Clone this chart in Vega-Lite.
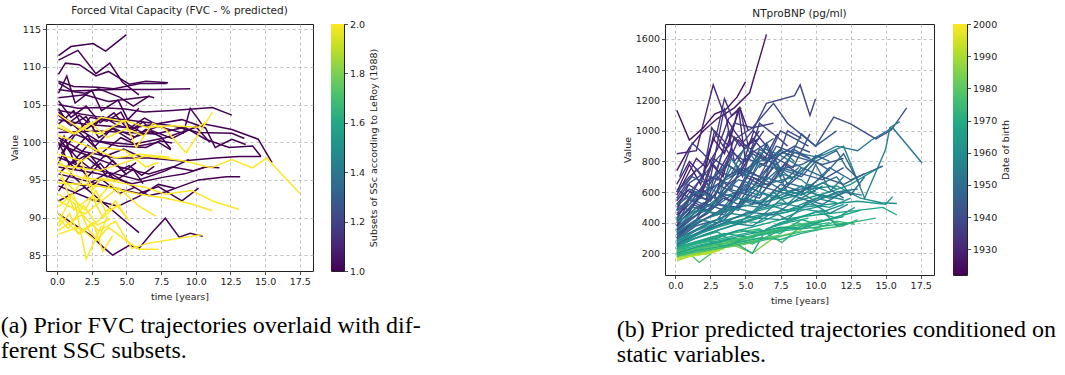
{
"$schema": "https://vega.github.io/schema/vega-lite/v6.json",
"background": "white",
"padding": {"left": 0, "top": 5, "right": 0, "bottom": 0},
"config": {
  "view": {"stroke": "#222", "strokeWidth": 1},
  "axis": {"grid": true, "gridDash": [3, 3], "gridColor": "#b0b0b0", "gridWidth": 0.8, "domain": false, "tickColor": "#222", "tickSize": 3.5, "tickWidth": 0.8, "labelFont": "DejaVu Sans", "labelFontSize": 9.5, "labelColor": "#222", "labelPadding": 2, "titleFont": "DejaVu Sans", "titleFontSize": 9.5, "titleFontWeight": "normal", "titleColor": "#222", "titlePadding": 5},
  "title": {"font": "DejaVu Sans", "fontSize": 10.5, "fontWeight": "normal", "color": "#222"}
},
"resolve": {"scale": {"color": "independent"}},
"datasets": {
"cb1": [{"lo": 1, "hi": 2}],
"cb2": [{"lo": 1922, "hi": 2000}],
"fvc": [
{"i":1,"g":1,"t":0.1,"v":111.5},{"i":1,"g":1,"t":1.0,"v":112.7},{"i":1,"g":1,"t":2.6,"v":113.1},{"i":1,"g":1,"t":3.5,"v":112.1},{"i":1,"g":1,"t":5.0,"v":114.3},
{"i":2,"g":1,"t":0.1,"v":110.9},{"i":2,"g":1,"t":1.5,"v":112.2},{"i":2,"g":1,"t":2.8,"v":109.1},{"i":2,"g":1,"t":3.8,"v":110.5},{"i":2,"g":1,"t":4.7,"v":108.0},{"i":2,"g":1,"t":5.9,"v":106.3},
{"i":3,"g":1,"t":0.1,"v":109.0},{"i":3,"g":1,"t":0.6,"v":110.5},{"i":3,"g":1,"t":1.6,"v":110.3},{"i":3,"g":1,"t":2.8,"v":108.8},{"i":3,"g":1,"t":3.7,"v":109.4},{"i":3,"g":1,"t":5.2,"v":107.7},{"i":3,"g":1,"t":6.4,"v":108.1},{"i":3,"g":1,"t":8.0,"v":107.9},
{"i":4,"g":1,"t":0.1,"v":108.1},{"i":4,"g":1,"t":1.2,"v":107.4},{"i":4,"g":1,"t":2.9,"v":107.3},{"i":4,"g":1,"t":4.1,"v":107.1},{"i":4,"g":1,"t":6.0,"v":107.8},{"i":4,"g":1,"t":7.9,"v":107.8},
{"i":5,"g":1,"t":0.1,"v":107.9},{"i":5,"g":1,"t":1.1,"v":106.8},{"i":5,"g":1,"t":4.2,"v":107.0},{"i":5,"g":1,"t":7.1,"v":107.0},{"i":5,"g":1,"t":9.6,"v":107.1},
{"i":6,"g":1,"t":0.1,"v":107.0},{"i":6,"g":1,"t":2.0,"v":106.5},{"i":6,"g":1,"t":3.0,"v":107.1},{"i":6,"g":1,"t":4.5,"v":106.0},{"i":6,"g":1,"t":5.5,"v":104.8},{"i":6,"g":1,"t":6.6,"v":106.1},{"i":6,"g":1,"t":7.0,"v":105.9},
{"i":7,"g":1,"t":0.1,"v":105.9},{"i":7,"g":1,"t":2.0,"v":106.3},{"i":7,"g":1,"t":3.7,"v":105.4},{"i":7,"g":1,"t":5.9,"v":105.9},{"i":7,"g":1,"t":6.7,"v":106.1},
{"i":8,"g":1,"t":0.1,"v":105.0},{"i":8,"g":1,"t":1.5,"v":104.5},{"i":8,"g":1,"t":3.0,"v":104.6},{"i":8,"g":1,"t":4.9,"v":104.4},{"i":8,"g":1,"t":6.3,"v":104.0},{"i":8,"g":1,"t":8.3,"v":104.2},{"i":8,"g":1,"t":11.2,"v":104.6},{"i":8,"g":1,"t":12.6,"v":103.6},
{"i":9,"g":1,"t":0.1,"v":104.2},{"i":9,"g":1,"t":2.9,"v":103.4},{"i":9,"g":1,"t":5.4,"v":102.9},{"i":9,"g":1,"t":8.3,"v":102.2},{"i":9,"g":1,"t":10.2,"v":101.3},{"i":9,"g":1,"t":12.6,"v":101.2},{"i":9,"g":1,"t":13.5,"v":100.5},
{"i":10,"g":1,"t":0.1,"v":103.0},{"i":10,"g":1,"t":2.0,"v":102.4},{"i":10,"g":1,"t":5.4,"v":101.9},{"i":10,"g":1,"t":9.0,"v":103.0},{"i":10,"g":1,"t":10.7,"v":101.9},{"i":10,"g":1,"t":11.4,"v":99.3},{"i":10,"g":1,"t":12.6,"v":100.4},{"i":10,"g":1,"t":13.6,"v":99.7},
{"i":11,"g":1,"t":0.1,"v":101.3},{"i":11,"g":1,"t":3.0,"v":101.5},{"i":11,"g":1,"t":7.1,"v":101.1},{"i":11,"g":1,"t":9.2,"v":102.0},{"i":11,"g":1,"t":10.7,"v":100.4},{"i":11,"g":1,"t":12.4,"v":99.3},{"i":11,"g":1,"t":14.1,"v":99.5},{"i":11,"g":1,"t":14.7,"v":98.1},
{"i":12,"g":1,"t":0.1,"v":101.9},{"i":12,"g":1,"t":2.5,"v":100.2},{"i":12,"g":1,"t":5.4,"v":99.7},{"i":12,"g":1,"t":7.8,"v":100.6},{"i":12,"g":1,"t":10.7,"v":102.4},{"i":12,"g":1,"t":12.6,"v":101.7},{"i":12,"g":1,"t":14.5,"v":100.4},{"i":12,"g":1,"t":15.5,"v":97.3},
{"i":13,"g":1,"t":0.1,"v":100.6},{"i":13,"g":1,"t":1.8,"v":98.8},{"i":13,"g":1,"t":4.2,"v":97.9},{"i":13,"g":1,"t":6.6,"v":97.9},{"i":13,"g":1,"t":9.0,"v":97.5},{"i":13,"g":1,"t":11.4,"v":97.9},{"i":13,"g":1,"t":13.1,"v":98.1},{"i":13,"g":1,"t":14.7,"v":98.1},
{"i":14,"g":1,"t":0.1,"v":99.7},{"i":14,"g":1,"t":2.0,"v":98.4},{"i":14,"g":1,"t":4.5,"v":96.7},{"i":14,"g":1,"t":6.6,"v":95.8},{"i":14,"g":1,"t":8.3,"v":96.7},{"i":14,"g":1,"t":9.8,"v":96.2},{"i":14,"g":1,"t":10.7,"v":96.7},
{"i":15,"g":1,"t":0.1,"v":98.0},{"i":15,"g":1,"t":1.8,"v":96.7},{"i":15,"g":1,"t":4.2,"v":95.8},{"i":15,"g":1,"t":5.9,"v":95.0},{"i":15,"g":1,"t":7.8,"v":96.2},{"i":15,"g":1,"t":9.5,"v":97.7},
{"i":16,"g":1,"t":0.1,"v":96.7},{"i":16,"g":1,"t":3.0,"v":95.8},{"i":16,"g":1,"t":5.4,"v":94.5},{"i":16,"g":1,"t":7.8,"v":95.4},{"i":16,"g":1,"t":9.2,"v":95.8},{"i":16,"g":1,"t":10.7,"v":96.7},{"i":16,"g":1,"t":11.7,"v":96.6},
{"i":17,"g":1,"t":0.1,"v":95.8},{"i":17,"g":1,"t":1.8,"v":95.0},{"i":17,"g":1,"t":3.7,"v":94.1},{"i":17,"g":1,"t":5.9,"v":93.2},{"i":17,"g":1,"t":7.3,"v":94.1},{"i":17,"g":1,"t":9.0,"v":92.2},{"i":17,"g":1,"t":10.2,"v":93.9},
{"i":18,"g":1,"t":0.1,"v":92.2},{"i":18,"g":1,"t":2.0,"v":94.0},{"i":18,"g":1,"t":3.7,"v":91.4},{"i":18,"g":1,"t":5.9,"v":88.0},
{"i":19,"g":1,"t":0.1,"v":90.5},{"i":19,"g":1,"t":1.3,"v":89.0},{"i":19,"g":1,"t":2.4,"v":87.7},{"i":19,"g":1,"t":3.3,"v":86.1},{"i":19,"g":1,"t":4.0,"v":85.0},{"i":19,"g":1,"t":5.2,"v":86.3},{"i":19,"g":1,"t":5.9,"v":85.9},{"i":19,"g":1,"t":6.9,"v":88.1},{"i":19,"g":1,"t":7.8,"v":89.9},{"i":19,"g":1,"t":8.8,"v":87.4},{"i":19,"g":1,"t":9.6,"v":87.9},{"i":19,"g":1,"t":10.5,"v":87.5},
{"i":20,"g":1,"t":0.1,"v":95.0},{"i":20,"g":1,"t":2.0,"v":94.2},{"i":20,"g":1,"t":3.7,"v":96.0},{"i":20,"g":1,"t":5.4,"v":94.2},{"i":20,"g":1,"t":6.6,"v":92.9},{"i":20,"g":1,"t":7.8,"v":93.4},{"i":20,"g":1,"t":9.0,"v":94.2},{"i":20,"g":1,"t":10.2,"v":95.0},{"i":20,"g":1,"t":12.2,"v":95.4},{"i":20,"g":1,"t":13.2,"v":95.4},
{"i":21,"g":1,"t":0.1,"v":94.2},{"i":21,"g":1,"t":2.5,"v":92.4},{"i":21,"g":1,"t":4.4,"v":91.5},{"i":21,"g":1,"t":5.9,"v":92.8},{"i":21,"g":1,"t":7.3,"v":94.4},{"i":21,"g":1,"t":8.5,"v":93.9},
{"i":22,"g":1,"t":0.1,"v":104.5},{"i":22,"g":1,"t":0.8,"v":102.5},{"i":22,"g":1,"t":1.6,"v":103.6},{"i":22,"g":1,"t":2.6,"v":102.0},{"i":22,"g":1,"t":3.3,"v":103.4},{"i":22,"g":1,"t":4.3,"v":102.3},{"i":22,"g":1,"t":5.7,"v":101.5},{"i":22,"g":1,"t":6.0,"v":102.5},
{"i":23,"g":1,"t":0.1,"v":99.0},{"i":23,"g":1,"t":0.5,"v":100.8},{"i":23,"g":1,"t":1.2,"v":97.5},{"i":23,"g":1,"t":2.2,"v":99.6},{"i":23,"g":1,"t":3.4,"v":98.1},{"i":23,"g":1,"t":4.8,"v":99.1},{"i":23,"g":1,"t":6.2,"v":97.9},
{"i":24,"g":1,"t":0.1,"v":97.2},{"i":24,"g":1,"t":0.7,"v":99.5},{"i":24,"g":1,"t":1.5,"v":97.8},{"i":24,"g":1,"t":2.4,"v":96.5},{"i":24,"g":1,"t":3.5,"v":98.3},{"i":24,"g":1,"t":4.8,"v":96.1},{"i":24,"g":1,"t":5.7,"v":97.3},
{"i":25,"g":1,"t":0.2,"v":100.3},{"i":25,"g":1,"t":1.0,"v":98.6},{"i":25,"g":1,"t":2.2,"v":100.9},{"i":25,"g":1,"t":3.1,"v":98.4},{"i":25,"g":1,"t":4.6,"v":100.6},{"i":25,"g":1,"t":5.9,"v":99.5},{"i":25,"g":1,"t":7.3,"v":100.0},{"i":25,"g":1,"t":8.2,"v":99.0},
{"i":26,"g":1,"t":0.1,"v":102.4},{"i":26,"g":1,"t":1.2,"v":104.2},{"i":26,"g":1,"t":2.0,"v":101.6},{"i":26,"g":1,"t":3.2,"v":103.1},{"i":26,"g":1,"t":4.9,"v":102.6},{"i":26,"g":1,"t":6.1,"v":101.3},{"i":26,"g":1,"t":7.3,"v":102.1},{"i":26,"g":1,"t":9.1,"v":101.2},{"i":26,"g":1,"t":9.6,"v":104.5},{"i":26,"g":1,"t":10.2,"v":103.0},{"i":26,"g":1,"t":10.6,"v":101.9},
{"i":27,"g":1,"t":0.1,"v":106.5},{"i":27,"g":1,"t":0.7,"v":108.8},{"i":27,"g":1,"t":1.3,"v":105.2},{"i":27,"g":1,"t":2.5,"v":106.9},{"i":27,"g":1,"t":3.2,"v":104.2},{"i":27,"g":1,"t":4.4,"v":105.6},{"i":27,"g":1,"t":5.1,"v":103.0},{"i":27,"g":1,"t":5.9,"v":104.5},
{"i":28,"g":1,"t":0.1,"v":103.6},{"i":28,"g":1,"t":1.0,"v":102.2},{"i":28,"g":1,"t":2.1,"v":103.4},{"i":28,"g":1,"t":3.0,"v":100.6},{"i":28,"g":1,"t":4.0,"v":101.8},{"i":28,"g":1,"t":5.3,"v":100.3},{"i":28,"g":1,"t":6.4,"v":101.7},{"i":28,"g":1,"t":7.5,"v":100.7},{"i":28,"g":1,"t":8.2,"v":99.1},
{"i":29,"g":1,"t":0.2,"v":96.0},{"i":29,"g":1,"t":1.2,"v":97.6},{"i":29,"g":1,"t":2.2,"v":95.4},{"i":29,"g":1,"t":3.1,"v":97.2},{"i":29,"g":1,"t":4.2,"v":94.9},{"i":29,"g":1,"t":5.5,"v":96.4},{"i":29,"g":1,"t":6.2,"v":94.5},
{"i":30,"g":1,"t":0.1,"v":93.5},{"i":30,"g":1,"t":1.0,"v":95.8},{"i":30,"g":1,"t":2.1,"v":93.8},{"i":30,"g":1,"t":3.2,"v":95.1},{"i":30,"g":1,"t":4.5,"v":93.2},{"i":30,"g":1,"t":5.6,"v":94.0},
{"i":31,"g":1,"t":0.3,"v":98.5},{"i":31,"g":1,"t":1.5,"v":101.5},{"i":31,"g":1,"t":2.7,"v":99.4},{"i":31,"g":1,"t":4.0,"v":101.9},{"i":31,"g":1,"t":5.6,"v":100.7},{"i":31,"g":1,"t":6.9,"v":101.5},{"i":31,"g":1,"t":8.3,"v":100.5},{"i":31,"g":1,"t":10.0,"v":102.1},{"i":31,"g":1,"t":11.0,"v":100.0},
{"i":32,"g":1,"t":0.1,"v":105.5},{"i":32,"g":1,"t":1.0,"v":103.3},{"i":32,"g":1,"t":2.1,"v":104.8},{"i":32,"g":1,"t":3.1,"v":102.6},{"i":32,"g":1,"t":4.1,"v":103.9},{"i":32,"g":1,"t":5.1,"v":101.7},{"i":32,"g":1,"t":6.3,"v":103.2},{"i":32,"g":1,"t":7.2,"v":102.3},
{"i":33,"g":1,"t":0.1,"v":100.0},{"i":33,"g":1,"t":0.9,"v":97.0},{"i":33,"g":1,"t":2.0,"v":98.2},{"i":33,"g":1,"t":3.3,"v":96.2},{"i":33,"g":1,"t":4.0,"v":97.6},{"i":33,"g":1,"t":5.0,"v":95.7},
{"i":34,"g":1,"t":0.2,"v":99.5},{"i":34,"g":1,"t":1.6,"v":101.7},{"i":34,"g":1,"t":3.0,"v":100.1},{"i":34,"g":1,"t":4.4,"v":99.5},{"i":34,"g":1,"t":6.4,"v":99.3},{"i":34,"g":1,"t":7.4,"v":100.2},{"i":34,"g":1,"t":8.3,"v":99.9},
{"i":35,"g":1,"t":0.1,"v":104.0},{"i":35,"g":1,"t":1.6,"v":101.6},{"i":35,"g":1,"t":2.4,"v":103.3},{"i":35,"g":1,"t":3.6,"v":102.8},{"i":35,"g":1,"t":4.6,"v":104.0},{"i":35,"g":1,"t":5.3,"v":101.6},{"i":35,"g":1,"t":6.2,"v":102.7},{"i":35,"g":1,"t":7.0,"v":101.2},
{"i":36,"g":1,"t":0.4,"v":98.2},{"i":36,"g":1,"t":1.3,"v":96.5},{"i":36,"g":1,"t":2.3,"v":98.5},{"i":36,"g":1,"t":3.6,"v":95.4},{"i":36,"g":1,"t":5.2,"v":96.9},{"i":36,"g":1,"t":6.1,"v":95.6},{"i":36,"g":1,"t":7.0,"v":96.8},
{"i":41,"g":2,"t":0.1,"v":97.0},{"i":41,"g":2,"t":3.0,"v":96.2},{"i":41,"g":2,"t":6.4,"v":98.2},{"i":41,"g":2,"t":9.2,"v":97.5},{"i":41,"g":2,"t":11.1,"v":96.6},{"i":41,"g":2,"t":12.6,"v":97.7},{"i":41,"g":2,"t":14.1,"v":96.6},{"i":41,"g":2,"t":15.1,"v":97.9},{"i":41,"g":2,"t":17.5,"v":93.2},
{"i":42,"g":2,"t":0.1,"v":103.7},{"i":42,"g":2,"t":1.5,"v":102.0},{"i":42,"g":2,"t":3.0,"v":101.1},{"i":42,"g":2,"t":4.9,"v":102.9},{"i":42,"g":2,"t":6.4,"v":102.0},{"i":42,"g":2,"t":8.3,"v":102.2},{"i":42,"g":2,"t":10.2,"v":102.0},{"i":42,"g":2,"t":10.7,"v":102.7},
{"i":43,"g":2,"t":0.1,"v":102.4},{"i":43,"g":2,"t":1.3,"v":101.1},{"i":43,"g":2,"t":3.2,"v":103.3},{"i":43,"g":2,"t":4.9,"v":102.7},{"i":43,"g":2,"t":5.7,"v":99.3},{"i":43,"g":2,"t":6.9,"v":102.5},{"i":43,"g":2,"t":7.8,"v":101.7},{"i":43,"g":2,"t":9.3,"v":98.6},{"i":43,"g":2,"t":10.2,"v":101.1},{"i":43,"g":2,"t":11.2,"v":104.0},
{"i":44,"g":2,"t":0.1,"v":96.2},{"i":44,"g":2,"t":1.8,"v":95.3},{"i":44,"g":2,"t":3.7,"v":94.9},{"i":44,"g":2,"t":6.4,"v":94.0},{"i":44,"g":2,"t":7.8,"v":93.1},{"i":44,"g":2,"t":9.7,"v":93.6},{"i":44,"g":2,"t":11.2,"v":92.2},{"i":44,"g":2,"t":13.1,"v":91.1},
{"i":45,"g":2,"t":0.1,"v":94.6},{"i":45,"g":2,"t":2.0,"v":94.4},{"i":45,"g":2,"t":4.0,"v":93.9},{"i":45,"g":2,"t":5.9,"v":93.1},{"i":45,"g":2,"t":7.8,"v":92.6},{"i":45,"g":2,"t":9.7,"v":91.8},{"i":45,"g":2,"t":11.2,"v":90.9},
{"i":46,"g":2,"t":0.1,"v":87.8},{"i":46,"g":2,"t":1.6,"v":88.7},{"i":46,"g":2,"t":2.8,"v":86.9},{"i":46,"g":2,"t":3.7,"v":88.7},{"i":46,"g":2,"t":5.0,"v":86.9},{"i":46,"g":2,"t":5.9,"v":85.8},{"i":46,"g":2,"t":7.3,"v":85.8},
{"i":47,"g":2,"t":0.1,"v":88.3},{"i":47,"g":2,"t":1.8,"v":90.4},{"i":47,"g":2,"t":3.0,"v":88.2},{"i":47,"g":2,"t":4.2,"v":89.5},{"i":47,"g":2,"t":5.4,"v":85.9},{"i":47,"g":2,"t":6.6,"v":86.6},{"i":47,"g":2,"t":8.3,"v":87.1},{"i":47,"g":2,"t":10.4,"v":87.7},
{"i":48,"g":2,"t":0.1,"v":91.4},{"i":48,"g":2,"t":1.1,"v":93.2},{"i":48,"g":2,"t":2.3,"v":88.3},{"i":48,"g":2,"t":3.0,"v":87.0},{"i":48,"g":2,"t":3.6,"v":90.2},
{"i":49,"g":2,"t":0.1,"v":93.1},{"i":49,"g":2,"t":1.3,"v":91.8},{"i":49,"g":2,"t":2.1,"v":84.5},{"i":49,"g":2,"t":2.7,"v":86.8},{"i":49,"g":2,"t":3.2,"v":88.9},
{"i":50,"g":2,"t":0.1,"v":90.5},{"i":50,"g":2,"t":1.6,"v":87.8},{"i":50,"g":2,"t":3.0,"v":89.6},{"i":50,"g":2,"t":4.2,"v":92.2},{"i":50,"g":2,"t":5.0,"v":90.0},
{"i":51,"g":2,"t":0.1,"v":92.2},{"i":51,"g":2,"t":2.0,"v":90.5},{"i":51,"g":2,"t":3.2,"v":92.2},{"i":51,"g":2,"t":4.4,"v":94.0},{"i":51,"g":2,"t":5.9,"v":91.5},{"i":51,"g":2,"t":7.1,"v":90.2},
{"i":52,"g":2,"t":0.1,"v":98.4},{"i":52,"g":2,"t":1.8,"v":97.5},{"i":52,"g":2,"t":3.2,"v":99.3},{"i":52,"g":2,"t":4.9,"v":98.9},{"i":52,"g":2,"t":6.4,"v":96.7},{"i":52,"g":2,"t":7.3,"v":97.3},
{"i":53,"g":2,"t":0.1,"v":100.9},{"i":53,"g":2,"t":2.0,"v":99.6},{"i":53,"g":2,"t":4.2,"v":97.9},{"i":53,"g":2,"t":5.9,"v":98.4},{"i":53,"g":2,"t":8.1,"v":98.0},
{"i":54,"g":2,"t":0.1,"v":89.2},{"i":54,"g":2,"t":1.0,"v":92.8},{"i":54,"g":2,"t":2.0,"v":91.0},{"i":54,"g":2,"t":2.8,"v":93.6},{"i":54,"g":2,"t":3.5,"v":90.8},{"i":54,"g":2,"t":4.6,"v":91.7},
{"i":55,"g":2,"t":0.2,"v":95.3},{"i":55,"g":2,"t":1.3,"v":93.5},{"i":55,"g":2,"t":2.0,"v":95.6},{"i":55,"g":2,"t":2.8,"v":92.2},{"i":55,"g":2,"t":3.9,"v":94.5},{"i":55,"g":2,"t":4.6,"v":92.9},
{"i":56,"g":2,"t":0.1,"v":88.8},{"i":56,"g":2,"t":0.9,"v":90.5},{"i":56,"g":2,"t":1.5,"v":87.9},{"i":56,"g":2,"t":2.6,"v":89.3},{"i":56,"g":2,"t":3.3,"v":85.5},{"i":56,"g":2,"t":4.0,"v":87.6},
{"i":57,"g":2,"t":0.1,"v":97.5},{"i":57,"g":2,"t":1.0,"v":96.0},{"i":57,"g":2,"t":1.7,"v":97.6},{"i":57,"g":2,"t":2.6,"v":93.7},{"i":57,"g":2,"t":3.1,"v":95.2},{"i":57,"g":2,"t":4.5,"v":94.9},
{"i":58,"g":2,"t":0.3,"v":95.8},{"i":58,"g":2,"t":1.2,"v":91.0},{"i":58,"g":2,"t":2.5,"v":92.8},{"i":58,"g":2,"t":3.3,"v":90.0},{"i":58,"g":2,"t":4.3,"v":91.6},{"i":58,"g":2,"t":5.2,"v":89.6},
{"i":59,"g":2,"t":0.1,"v":102.0},{"i":59,"g":2,"t":1.2,"v":101.1},{"i":59,"g":2,"t":2.4,"v":102.6},{"i":59,"g":2,"t":3.6,"v":100.6},{"i":59,"g":2,"t":5.0,"v":101.8},{"i":59,"g":2,"t":6.3,"v":100.8},
{"i":60,"g":2,"t":0.1,"v":90.0},{"i":60,"g":2,"t":0.8,"v":88.5},{"i":60,"g":2,"t":1.9,"v":91.6},{"i":60,"g":2,"t":2.9,"v":89.0},{"i":60,"g":2,"t":3.8,"v":89.8}
],
"bnp": [
{"i":1,"b":1924,"t":0.1,"v":1135},{"i":1,"b":1924,"t":1.0,"v":940},{"i":1,"b":1924,"t":2.0,"v":1020},{"i":1,"b":1924,"t":2.8,"v":1110},{"i":1,"b":1924,"t":3.6,"v":1140},{"i":1,"b":1924,"t":4.4,"v":1220},{"i":1,"b":1924,"t":5.0,"v":1320},
{"i":2,"b":1926,"t":0.1,"v":740},{"i":2,"b":1926,"t":1.0,"v":890},{"i":2,"b":1926,"t":2.0,"v":1000},{"i":2,"b":1926,"t":3.0,"v":1080},{"i":2,"b":1926,"t":4.2,"v":1150},{"i":2,"b":1926,"t":5.3,"v":1250},{"i":2,"b":1926,"t":6.5,"v":1630},
{"i":3,"b":1930,"t":0.1,"v":850},{"i":3,"b":1930,"t":1.5,"v":870},{"i":3,"b":1930,"t":2.7,"v":1300},{"i":3,"b":1930,"t":3.5,"v":1100},{"i":3,"b":1930,"t":4.2,"v":1000},{"i":3,"b":1930,"t":5.0,"v":900},{"i":3,"b":1930,"t":6.0,"v":950},
{"i":4,"b":1935,"t":0.1,"v":600},{"i":4,"b":1935,"t":1.0,"v":700},{"i":4,"b":1935,"t":2.0,"v":780},{"i":4,"b":1935,"t":3.0,"v":1000},{"i":4,"b":1935,"t":3.5,"v":1210},{"i":4,"b":1935,"t":4.0,"v":1100},{"i":4,"b":1935,"t":4.6,"v":1150},{"i":4,"b":1935,"t":5.2,"v":900},{"i":4,"b":1935,"t":6.0,"v":1000},
{"i":5,"b":1937,"t":0.3,"v":700},{"i":5,"b":1937,"t":1.2,"v":920},{"i":5,"b":1937,"t":2.0,"v":850},{"i":5,"b":1937,"t":3.0,"v":750},{"i":5,"b":1937,"t":3.8,"v":1000},{"i":5,"b":1937,"t":4.6,"v":900},{"i":5,"b":1937,"t":5.5,"v":1000},{"i":5,"b":1937,"t":6.5,"v":1180},{"i":5,"b":1937,"t":8.5,"v":1230},{"i":5,"b":1937,"t":8.9,"v":1300},{"i":5,"b":1937,"t":9.6,"v":1100},{"i":5,"b":1937,"t":10.0,"v":1210},
{"i":6,"b":1940,"t":0.1,"v":500},{"i":6,"b":1940,"t":1.5,"v":650},{"i":6,"b":1940,"t":3.0,"v":820},{"i":6,"b":1940,"t":4.3,"v":950},{"i":6,"b":1940,"t":5.5,"v":1020},{"i":6,"b":1940,"t":7.0,"v":1180},{"i":6,"b":1940,"t":8.0,"v":1050},{"i":6,"b":1940,"t":10.0,"v":900},{"i":6,"b":1940,"t":11.3,"v":1090},{"i":6,"b":1940,"t":12.5,"v":1045},{"i":6,"b":1940,"t":14.3,"v":947},{"i":6,"b":1940,"t":15.4,"v":1005},{"i":6,"b":1940,"t":16.5,"v":1150},
{"i":7,"b":1952,"t":0.1,"v":450},{"i":7,"b":1952,"t":2.0,"v":600},{"i":7,"b":1952,"t":4.0,"v":700},{"i":7,"b":1952,"t":6.0,"v":800},{"i":7,"b":1952,"t":8.0,"v":870},{"i":7,"b":1952,"t":10.0,"v":830},{"i":7,"b":1952,"t":11.5,"v":900},{"i":7,"b":1952,"t":13.0,"v":870},{"i":7,"b":1952,"t":14.0,"v":940},{"i":7,"b":1952,"t":15.5,"v":1020},{"i":7,"b":1952,"t":17.6,"v":790},
{"i":8,"b":1956,"t":0.1,"v":350},{"i":8,"b":1956,"t":3.0,"v":560},{"i":8,"b":1956,"t":6.0,"v":640},{"i":8,"b":1956,"t":8.5,"v":700},{"i":8,"b":1956,"t":10.0,"v":820},{"i":8,"b":1956,"t":12.0,"v":900},{"i":8,"b":1956,"t":13.5,"v":560},{"i":8,"b":1956,"t":15.0,"v":880},{"i":8,"b":1956,"t":15.3,"v":1020},{"i":8,"b":1956,"t":16.0,"v":1060},
{"i":9,"b":1972,"t":0.1,"v":200},{"i":9,"b":1972,"t":2.0,"v":250},{"i":9,"b":1972,"t":4.0,"v":290},{"i":9,"b":1972,"t":6.0,"v":320},{"i":9,"b":1972,"t":8.0,"v":350},{"i":9,"b":1972,"t":10.0,"v":370},{"i":9,"b":1972,"t":12.5,"v":400},{"i":9,"b":1972,"t":14.3,"v":430},
{"i":10,"b":1968,"t":0.1,"v":230},{"i":10,"b":1968,"t":2.5,"v":300},{"i":10,"b":1968,"t":5.0,"v":360},{"i":10,"b":1968,"t":7.5,"v":420},{"i":10,"b":1968,"t":10.0,"v":450},{"i":10,"b":1968,"t":13.0,"v":480},{"i":10,"b":1968,"t":14.8,"v":500},{"i":10,"b":1968,"t":15.8,"v":450},
{"i":11,"b":1964,"t":0.1,"v":280},{"i":11,"b":1964,"t":3.0,"v":380},{"i":11,"b":1964,"t":6.0,"v":450},{"i":11,"b":1964,"t":9.0,"v":500},{"i":11,"b":1964,"t":11.0,"v":520},{"i":11,"b":1964,"t":13.0,"v":540},{"i":11,"b":1964,"t":15.0,"v":520},{"i":11,"b":1964,"t":15.5,"v":570},
{"i":12,"b":1960,"t":0.1,"v":330},{"i":12,"b":1960,"t":2.0,"v":420},{"i":12,"b":1960,"t":4.5,"v":500},{"i":12,"b":1960,"t":7.0,"v":550},{"i":12,"b":1960,"t":9.5,"v":620},{"i":12,"b":1960,"t":11.5,"v":640},{"i":12,"b":1960,"t":13.2,"v":560},{"i":12,"b":1960,"t":14.7,"v":530},{"i":12,"b":1960,"t":15.8,"v":525},
{"i":13,"b":1962,"t":0.1,"v":300},{"i":13,"b":1962,"t":3.0,"v":400},{"i":13,"b":1962,"t":6.0,"v":480},{"i":13,"b":1962,"t":9.0,"v":550},{"i":13,"b":1962,"t":11.0,"v":600},{"i":13,"b":1962,"t":12.5,"v":650},{"i":13,"b":1962,"t":14.7,"v":770},
{"i":14,"b":1978,"t":0.1,"v":190},{"i":14,"b":1978,"t":1.0,"v":200},{"i":14,"b":1978,"t":1.7,"v":140},{"i":14,"b":1978,"t":3.0,"v":230},{"i":14,"b":1978,"t":4.5,"v":260},{"i":14,"b":1978,"t":6.0,"v":290},{"i":14,"b":1978,"t":7.5,"v":320},
{"i":15,"b":1990,"t":0.1,"v":150},{"i":15,"b":1990,"t":1.0,"v":180},{"i":15,"b":1990,"t":2.5,"v":200},{"i":15,"b":1990,"t":3.5,"v":240},{"i":15,"b":1990,"t":4.5,"v":280},{"i":15,"b":1990,"t":5.2,"v":300},
{"i":16,"b":1995,"t":0.1,"v":170},{"i":16,"b":1995,"t":1.5,"v":190},{"i":16,"b":1995,"t":3.0,"v":220},{"i":16,"b":1995,"t":4.5,"v":270},
{"i":17,"b":1985,"t":0.1,"v":190},{"i":17,"b":1985,"t":2.0,"v":220},{"i":17,"b":1985,"t":4.0,"v":260},{"i":17,"b":1985,"t":5.5,"v":200},{"i":17,"b":1985,"t":7.0,"v":300},{"i":17,"b":1985,"t":9.0,"v":350},
{"i":18,"b":1975,"t":0.1,"v":220},{"i":18,"b":1975,"t":2.0,"v":280},{"i":18,"b":1975,"t":4.0,"v":330},{"i":18,"b":1975,"t":6.0,"v":360},{"i":18,"b":1975,"t":7.6,"v":270},{"i":18,"b":1975,"t":9.0,"v":380},{"i":18,"b":1975,"t":11.0,"v":420},{"i":18,"b":1975,"t":12.0,"v":380},{"i":18,"b":1975,"t":13.0,"v":420},
{"i":19,"b":1932,"t":0.1,"v":650},{"i":19,"b":1932,"t":1.0,"v":800},{"i":19,"b":1932,"t":2.0,"v":700},{"i":19,"b":1932,"t":2.8,"v":1000},{"i":19,"b":1932,"t":3.8,"v":900},{"i":19,"b":1932,"t":4.5,"v":1150},{"i":19,"b":1932,"t":5.0,"v":800},
{"i":20,"b":1934,"t":0.1,"v":420},{"i":20,"b":1934,"t":1.2,"v":600},{"i":20,"b":1934,"t":2.2,"v":550},{"i":20,"b":1934,"t":3.5,"v":1150},{"i":20,"b":1934,"t":4.2,"v":800},{"i":20,"b":1934,"t":5.5,"v":950},{"i":20,"b":1934,"t":6.5,"v":850},
{"i":21,"b":1938,"t":0.1,"v":560},{"i":21,"b":1938,"t":1.5,"v":750},{"i":21,"b":1938,"t":2.5,"v":620},{"i":21,"b":1938,"t":3.5,"v":900},{"i":21,"b":1938,"t":4.8,"v":700},{"i":21,"b":1938,"t":6.0,"v":1050},{"i":21,"b":1938,"t":7.4,"v":950},{"i":21,"b":1938,"t":8.0,"v":900},
{"i":22,"b":1941,"t":0.1,"v":520},{"i":22,"b":1941,"t":1.0,"v":480},{"i":22,"b":1941,"t":2.5,"v":700},{"i":22,"b":1941,"t":4.0,"v":650},{"i":22,"b":1941,"t":5.5,"v":850},{"i":22,"b":1941,"t":6.5,"v":800},{"i":22,"b":1941,"t":7.5,"v":1000},{"i":22,"b":1941,"t":9.5,"v":900},
{"i":23,"b":1943,"t":0.1,"v":480},{"i":23,"b":1943,"t":1.5,"v":600},{"i":23,"b":1943,"t":3.0,"v":560},{"i":23,"b":1943,"t":4.5,"v":750},{"i":23,"b":1943,"t":6.0,"v":700},{"i":23,"b":1943,"t":7.6,"v":860},{"i":23,"b":1943,"t":9.0,"v":820},{"i":23,"b":1943,"t":10.5,"v":780},{"i":23,"b":1943,"t":12.0,"v":820},
{"i":24,"b":1944,"t":0.1,"v":400},{"i":24,"b":1944,"t":2.0,"v":530},{"i":24,"b":1944,"t":3.5,"v":480},{"i":24,"b":1944,"t":5.0,"v":680},{"i":24,"b":1944,"t":6.5,"v":900},{"i":24,"b":1944,"t":7.5,"v":700},{"i":24,"b":1944,"t":9.0,"v":980},{"i":24,"b":1944,"t":10.0,"v":900},{"i":24,"b":1944,"t":11.5,"v":1000},
{"i":25,"b":1946,"t":0.1,"v":380},{"i":25,"b":1946,"t":1.5,"v":450},{"i":25,"b":1946,"t":3.0,"v":600},{"i":25,"b":1946,"t":4.5,"v":560},{"i":25,"b":1946,"t":6.0,"v":780},{"i":25,"b":1946,"t":7.5,"v":750},{"i":25,"b":1946,"t":9.0,"v":700},{"i":25,"b":1946,"t":10.0,"v":800},{"i":25,"b":1946,"t":11.5,"v":870},{"i":25,"b":1946,"t":12.2,"v":760},{"i":25,"b":1946,"t":13.0,"v":690},
{"i":26,"b":1948,"t":0.1,"v":350},{"i":26,"b":1948,"t":2.0,"v":480},{"i":26,"b":1948,"t":3.5,"v":450},{"i":26,"b":1948,"t":5.0,"v":650},{"i":26,"b":1948,"t":6.0,"v":600},{"i":26,"b":1948,"t":7.0,"v":830},{"i":26,"b":1948,"t":8.0,"v":650},{"i":26,"b":1948,"t":9.0,"v":760},{"i":26,"b":1948,"t":10.5,"v":700},{"i":26,"b":1948,"t":12.0,"v":850},{"i":26,"b":1948,"t":13.2,"v":640},
{"i":27,"b":1950,"t":0.1,"v":330},{"i":27,"b":1950,"t":1.5,"v":420},{"i":27,"b":1950,"t":3.0,"v":520},{"i":27,"b":1950,"t":4.5,"v":480},{"i":27,"b":1950,"t":6.0,"v":700},{"i":27,"b":1950,"t":7.5,"v":620},{"i":27,"b":1950,"t":9.0,"v":580},{"i":27,"b":1950,"t":10.0,"v":780},{"i":27,"b":1950,"t":11.0,"v":620},{"i":27,"b":1950,"t":12.0,"v":560},
{"i":28,"b":1951,"t":0.1,"v":300},{"i":28,"b":1951,"t":2.0,"v":450},{"i":28,"b":1951,"t":4.0,"v":580},{"i":28,"b":1951,"t":5.5,"v":520},{"i":28,"b":1951,"t":7.0,"v":780},{"i":28,"b":1951,"t":8.0,"v":600},{"i":28,"b":1951,"t":10.0,"v":640},{"i":28,"b":1951,"t":11.5,"v":700},{"i":28,"b":1951,"t":12.5,"v":580},{"i":28,"b":1951,"t":13.5,"v":700},
{"i":29,"b":1953,"t":0.1,"v":420},{"i":29,"b":1953,"t":2.0,"v":580},{"i":29,"b":1953,"t":4.0,"v":720},{"i":29,"b":1953,"t":5.0,"v":900},{"i":29,"b":1953,"t":6.0,"v":760},{"i":29,"b":1953,"t":7.5,"v":880},{"i":29,"b":1953,"t":8.5,"v":800},
{"i":30,"b":1955,"t":0.1,"v":360},{"i":30,"b":1955,"t":1.5,"v":500},{"i":30,"b":1955,"t":3.0,"v":450},{"i":30,"b":1955,"t":4.5,"v":620},{"i":30,"b":1955,"t":6.0,"v":580},{"i":30,"b":1955,"t":7.5,"v":720},{"i":30,"b":1955,"t":9.0,"v":680},{"i":30,"b":1955,"t":10.0,"v":600},
{"i":31,"b":1958,"t":0.1,"v":320},{"i":31,"b":1958,"t":2.0,"v":420},{"i":31,"b":1958,"t":4.0,"v":500},{"i":31,"b":1958,"t":5.5,"v":470},{"i":31,"b":1958,"t":7.0,"v":600},{"i":31,"b":1958,"t":8.0,"v":520},{"i":31,"b":1958,"t":9.5,"v":650},{"i":31,"b":1958,"t":11.0,"v":600},{"i":31,"b":1958,"t":12.0,"v":700},
{"i":32,"b":1959,"t":0.1,"v":270},{"i":32,"b":1959,"t":2.0,"v":380},{"i":32,"b":1959,"t":4.0,"v":460},{"i":32,"b":1959,"t":6.0,"v":430},{"i":32,"b":1959,"t":7.5,"v":550},{"i":32,"b":1959,"t":9.5,"v":600},{"i":32,"b":1959,"t":11.0,"v":560},{"i":32,"b":1959,"t":12.5,"v":610},
{"i":33,"b":1961,"t":0.1,"v":260},{"i":33,"b":1961,"t":1.5,"v":330},{"i":33,"b":1961,"t":3.0,"v":400},{"i":33,"b":1961,"t":5.0,"v":450},{"i":33,"b":1961,"t":6.5,"v":520},{"i":33,"b":1961,"t":8.0,"v":480},{"i":33,"b":1961,"t":10.0,"v":560},{"i":33,"b":1961,"t":11.5,"v":530},
{"i":34,"b":1963,"t":0.1,"v":250},{"i":34,"b":1963,"t":2.0,"v":320},{"i":34,"b":1963,"t":4.0,"v":380},{"i":34,"b":1963,"t":6.0,"v":440},{"i":34,"b":1963,"t":8.0,"v":470},{"i":34,"b":1963,"t":9.5,"v":520},{"i":34,"b":1963,"t":11.0,"v":500},{"i":34,"b":1963,"t":12.5,"v":560},
{"i":35,"b":1966,"t":0.1,"v":240},{"i":35,"b":1966,"t":2.0,"v":290},{"i":35,"b":1966,"t":3.5,"v":330},{"i":35,"b":1966,"t":5.5,"v":300},{"i":35,"b":1966,"t":7.0,"v":380},{"i":35,"b":1966,"t":8.5,"v":420},{"i":35,"b":1966,"t":10.0,"v":470},{"i":35,"b":1966,"t":11.5,"v":430},{"i":35,"b":1966,"t":12.8,"v":500},
{"i":36,"b":1969,"t":0.1,"v":220},{"i":36,"b":1969,"t":2.0,"v":260},{"i":36,"b":1969,"t":4.0,"v":300},{"i":36,"b":1969,"t":5.5,"v":260},{"i":36,"b":1969,"t":7.0,"v":330},{"i":36,"b":1969,"t":8.5,"v":380},{"i":36,"b":1969,"t":10.0,"v":400},{"i":36,"b":1969,"t":12.0,"v":450},{"i":36,"b":1969,"t":13.2,"v":480},
{"i":37,"b":1973,"t":0.1,"v":210},{"i":37,"b":1973,"t":1.5,"v":240},{"i":37,"b":1973,"t":3.0,"v":270},{"i":37,"b":1973,"t":5.0,"v":300},{"i":37,"b":1973,"t":6.5,"v":340},{"i":37,"b":1973,"t":8.0,"v":360},{"i":37,"b":1973,"t":9.5,"v":380},{"i":37,"b":1973,"t":11.0,"v":400},
{"i":38,"b":1976,"t":0.1,"v":200},{"i":38,"b":1976,"t":1.5,"v":230},{"i":38,"b":1976,"t":3.0,"v":260},{"i":38,"b":1976,"t":4.5,"v":280},{"i":38,"b":1976,"t":6.5,"v":330},{"i":38,"b":1976,"t":8.0,"v":370},{"i":38,"b":1976,"t":9.5,"v":400},{"i":38,"b":1976,"t":10.5,"v":420},
{"i":39,"b":1982,"t":0.1,"v":180},{"i":39,"b":1982,"t":1.5,"v":200},{"i":39,"b":1982,"t":3.0,"v":230},{"i":39,"b":1982,"t":4.5,"v":250},{"i":39,"b":1982,"t":6.0,"v":280},
{"i":40,"b":1988,"t":0.1,"v":170},{"i":40,"b":1988,"t":1.0,"v":190},{"i":40,"b":1988,"t":2.5,"v":210},{"i":40,"b":1988,"t":3.5,"v":230},
{"i":41,"b":1928,"t":0.1,"v":600},{"i":41,"b":1928,"t":1.0,"v":780},{"i":41,"b":1928,"t":1.8,"v":650},{"i":41,"b":1928,"t":2.7,"v":950},{"i":41,"b":1928,"t":3.5,"v":850},{"i":41,"b":1928,"t":4.6,"v":1150},{"i":41,"b":1928,"t":5.2,"v":1000},
{"i":42,"b":1936,"t":0.1,"v":480},{"i":42,"b":1936,"t":1.0,"v":660},{"i":42,"b":1936,"t":2.0,"v":720},{"i":42,"b":1936,"t":2.6,"v":1020},{"i":42,"b":1936,"t":3.4,"v":900},{"i":42,"b":1936,"t":4.2,"v":1050},{"i":42,"b":1936,"t":5.5,"v":1020},{"i":42,"b":1936,"t":7.0,"v":1050},
{"i":43,"b":1939,"t":0.1,"v":380},{"i":43,"b":1939,"t":1.0,"v":550},{"i":43,"b":1939,"t":2.0,"v":500},{"i":43,"b":1939,"t":3.0,"v":700},{"i":43,"b":1939,"t":4.0,"v":620},{"i":43,"b":1939,"t":5.0,"v":820},{"i":43,"b":1939,"t":6.3,"v":780},{"i":43,"b":1939,"t":7.5,"v":870},{"i":43,"b":1939,"t":8.0,"v":1000},{"i":43,"b":1939,"t":9.0,"v":950},
{"i":44,"b":1942,"t":0.1,"v":320},{"i":44,"b":1942,"t":1.5,"v":420},{"i":44,"b":1942,"t":3.0,"v":650},{"i":44,"b":1942,"t":4.5,"v":580},{"i":44,"b":1942,"t":6.0,"v":880},{"i":44,"b":1942,"t":7.0,"v":820},{"i":44,"b":1942,"t":8.5,"v":900},{"i":44,"b":1942,"t":9.6,"v":860},
{"i":45,"b":1945,"t":0.1,"v":290},{"i":45,"b":1945,"t":1.5,"v":380},{"i":45,"b":1945,"t":3.0,"v":420},{"i":45,"b":1945,"t":4.5,"v":600},{"i":45,"b":1945,"t":6.0,"v":560},{"i":45,"b":1945,"t":7.0,"v":700},{"i":45,"b":1945,"t":8.5,"v":860},{"i":45,"b":1945,"t":10.0,"v":800},{"i":45,"b":1945,"t":11.0,"v":740},
{"i":46,"b":1947,"t":0.1,"v":430},{"i":46,"b":1947,"t":1.0,"v":560},{"i":46,"b":1947,"t":2.5,"v":500},{"i":46,"b":1947,"t":4.0,"v":650},{"i":46,"b":1947,"t":5.0,"v":610},{"i":46,"b":1947,"t":6.5,"v":920},{"i":46,"b":1947,"t":7.5,"v":750},{"i":46,"b":1947,"t":9.0,"v":780},{"i":46,"b":1947,"t":10.5,"v":850},
{"i":47,"b":1949,"t":0.1,"v":260},{"i":47,"b":1949,"t":2.0,"v":350},{"i":47,"b":1949,"t":3.5,"v":420},{"i":47,"b":1949,"t":5.0,"v":560},{"i":47,"b":1949,"t":6.5,"v":510},{"i":47,"b":1949,"t":8.0,"v":660},{"i":47,"b":1949,"t":9.5,"v":620},{"i":47,"b":1949,"t":11.0,"v":760},{"i":47,"b":1949,"t":12.5,"v":680},{"i":47,"b":1949,"t":14.8,"v":770},
{"i":48,"b":1954,"t":0.1,"v":290},{"i":48,"b":1954,"t":2.0,"v":380},{"i":48,"b":1954,"t":4.0,"v":460},{"i":48,"b":1954,"t":5.5,"v":620},{"i":48,"b":1954,"t":7.0,"v":560},{"i":48,"b":1954,"t":8.5,"v":620},{"i":48,"b":1954,"t":10.0,"v":540},{"i":48,"b":1954,"t":11.5,"v":600},{"i":48,"b":1954,"t":13.0,"v":620},
{"i":49,"b":1957,"t":0.1,"v":250},{"i":49,"b":1957,"t":2.0,"v":340},{"i":49,"b":1957,"t":3.5,"v":400},{"i":49,"b":1957,"t":5.5,"v":380},{"i":49,"b":1957,"t":7.0,"v":470},{"i":49,"b":1957,"t":8.0,"v":420},{"i":49,"b":1957,"t":9.5,"v":540},{"i":49,"b":1957,"t":11.0,"v":460},{"i":49,"b":1957,"t":12.3,"v":520},
{"i":50,"b":1965,"t":0.1,"v":230},{"i":50,"b":1965,"t":1.5,"v":270},{"i":50,"b":1965,"t":3.0,"v":300},{"i":50,"b":1965,"t":4.5,"v":350},{"i":50,"b":1965,"t":6.0,"v":330},{"i":50,"b":1965,"t":7.5,"v":400},{"i":50,"b":1965,"t":9.0,"v":440},{"i":50,"b":1965,"t":10.5,"v":480},{"i":50,"b":1965,"t":11.5,"v":380},{"i":50,"b":1965,"t":12.7,"v":400},
{"i":51,"b":1967,"t":0.1,"v":260},{"i":51,"b":1967,"t":1.5,"v":300},{"i":51,"b":1967,"t":3.0,"v":340},{"i":51,"b":1967,"t":4.0,"v":280},{"i":51,"b":1967,"t":5.5,"v":200},{"i":51,"b":1967,"t":6.5,"v":360},{"i":51,"b":1967,"t":8.0,"v":400},{"i":51,"b":1967,"t":9.5,"v":430},
{"i":52,"b":1970,"t":0.1,"v":240},{"i":52,"b":1970,"t":1.5,"v":270},{"i":52,"b":1970,"t":3.0,"v":290},{"i":52,"b":1970,"t":4.5,"v":320},{"i":52,"b":1970,"t":6.0,"v":350},{"i":52,"b":1970,"t":7.5,"v":330},{"i":52,"b":1970,"t":9.0,"v":420},{"i":52,"b":1970,"t":10.5,"v":380},
{"i":53,"b":1974,"t":0.1,"v":220},{"i":53,"b":1974,"t":1.5,"v":230},{"i":53,"b":1974,"t":3.0,"v":250},{"i":53,"b":1974,"t":4.5,"v":290},{"i":53,"b":1974,"t":6.0,"v":320},{"i":53,"b":1974,"t":7.5,"v":350},{"i":53,"b":1974,"t":8.7,"v":400},{"i":53,"b":1974,"t":10.0,"v":360},{"i":53,"b":1974,"t":11.5,"v":410},{"i":53,"b":1974,"t":12.8,"v":390},
{"i":54,"b":1979,"t":0.1,"v":200},{"i":54,"b":1979,"t":1.0,"v":220},{"i":54,"b":1979,"t":2.5,"v":240},{"i":54,"b":1979,"t":4.0,"v":270},{"i":54,"b":1979,"t":5.5,"v":290},{"i":54,"b":1979,"t":7.0,"v":310},
{"i":55,"b":1984,"t":0.1,"v":190},{"i":55,"b":1984,"t":1.0,"v":180},{"i":55,"b":1984,"t":2.0,"v":210},{"i":55,"b":1984,"t":3.0,"v":230},{"i":55,"b":1984,"t":4.2,"v":250},
{"i":56,"b":1992,"t":0.1,"v":160},{"i":56,"b":1992,"t":0.8,"v":175},{"i":56,"b":1992,"t":1.6,"v":190},{"i":56,"b":1992,"t":2.4,"v":200},{"i":56,"b":1992,"t":3.2,"v":220},
{"i":57,"b":1930,"t":0.1,"v":580},{"i":57,"b":1930,"t":0.8,"v":700},{"i":57,"b":1930,"t":1.5,"v":820},{"i":57,"b":1930,"t":2.2,"v":760},{"i":57,"b":1930,"t":3.0,"v":880},{"i":57,"b":1930,"t":3.8,"v":1080},{"i":57,"b":1930,"t":4.7,"v":1150},
{"i":58,"b":1933,"t":0.1,"v":450},{"i":58,"b":1933,"t":1.0,"v":520},{"i":58,"b":1933,"t":2.0,"v":650},{"i":58,"b":1933,"t":3.0,"v":720},{"i":58,"b":1933,"t":4.0,"v":880},{"i":58,"b":1933,"t":4.8,"v":780},{"i":58,"b":1933,"t":5.6,"v":1000},{"i":58,"b":1933,"t":6.5,"v":900},
{"i":59,"b":1937,"t":0.1,"v":350},{"i":59,"b":1937,"t":1.0,"v":430},{"i":59,"b":1937,"t":2.0,"v":520},{"i":59,"b":1937,"t":3.0,"v":600},{"i":59,"b":1937,"t":4.0,"v":540},{"i":59,"b":1937,"t":5.0,"v":700},{"i":59,"b":1937,"t":6.0,"v":650},{"i":59,"b":1937,"t":7.0,"v":760},
{"i":60,"b":1940,"t":0.1,"v":400},{"i":60,"b":1940,"t":1.2,"v":520},{"i":60,"b":1940,"t":2.4,"v":480},{"i":60,"b":1940,"t":3.6,"v":640},{"i":60,"b":1940,"t":4.8,"v":720},{"i":60,"b":1940,"t":6.0,"v":680},{"i":60,"b":1940,"t":7.2,"v":820},{"i":60,"b":1940,"t":8.4,"v":760},{"i":60,"b":1940,"t":9.6,"v":980},
{"i":61,"b":1952,"t":0.1,"v":370},{"i":61,"b":1952,"t":1.5,"v":470},{"i":61,"b":1952,"t":3.0,"v":540},{"i":61,"b":1952,"t":4.0,"v":820},{"i":61,"b":1952,"t":5.0,"v":700},{"i":61,"b":1952,"t":6.4,"v":880},{"i":61,"b":1952,"t":7.5,"v":840},{"i":61,"b":1952,"t":9.0,"v":760},
{"i":62,"b":1956,"t":0.1,"v":310},{"i":62,"b":1956,"t":1.5,"v":400},{"i":62,"b":1956,"t":3.0,"v":460},{"i":62,"b":1956,"t":4.5,"v":500},{"i":62,"b":1956,"t":6.0,"v":600},{"i":62,"b":1956,"t":7.5,"v":560},{"i":62,"b":1956,"t":9.0,"v":640},{"i":62,"b":1956,"t":10.5,"v":560},{"i":62,"b":1956,"t":11.8,"v":600},
{"i":63,"b":1971,"t":0.1,"v":230},{"i":63,"b":1971,"t":1.0,"v":250},{"i":63,"b":1971,"t":2.5,"v":280},{"i":63,"b":1971,"t":3.5,"v":240},{"i":63,"b":1971,"t":5.0,"v":300},{"i":63,"b":1971,"t":6.5,"v":330},{"i":63,"b":1971,"t":8.0,"v":370},
{"i":64,"b":1977,"t":0.1,"v":210},{"i":64,"b":1977,"t":1.2,"v":230},{"i":64,"b":1977,"t":2.4,"v":250},{"i":64,"b":1977,"t":3.6,"v":280},{"i":64,"b":1977,"t":4.8,"v":300},{"i":64,"b":1977,"t":6.0,"v":330},{"i":64,"b":1977,"t":7.2,"v":360},{"i":64,"b":1977,"t":8.4,"v":380},
{"i":65,"b":1945,"t":0.1,"v":550},{"i":65,"b":1945,"t":1.0,"v":620},{"i":65,"b":1945,"t":2.0,"v":580},{"i":65,"b":1945,"t":3.0,"v":740},{"i":65,"b":1945,"t":4.0,"v":700},{"i":65,"b":1945,"t":5.0,"v":830},{"i":65,"b":1945,"t":6.2,"v":900},{"i":65,"b":1945,"t":7.0,"v":950},
{"i":66,"b":1950,"t":0.1,"v":480},{"i":66,"b":1950,"t":1.0,"v":520},{"i":66,"b":1950,"t":2.0,"v":640},{"i":66,"b":1950,"t":3.0,"v":600},{"i":66,"b":1950,"t":4.0,"v":760},{"i":66,"b":1950,"t":5.0,"v":720},{"i":66,"b":1950,"t":6.0,"v":860},{"i":66,"b":1950,"t":7.3,"v":760},{"i":66,"b":1950,"t":8.4,"v":680},
{"i":67,"b":1931,"t":0.1,"v":520},{"i":67,"b":1931,"t":0.9,"v":610},{"i":67,"b":1931,"t":1.8,"v":560},{"i":67,"b":1931,"t":2.6,"v":780},{"i":67,"b":1931,"t":3.4,"v":700},{"i":67,"b":1931,"t":4.2,"v":960},{"i":67,"b":1931,"t":5.0,"v":880},
{"i":68,"b":1934,"t":0.1,"v":380},{"i":68,"b":1934,"t":1.0,"v":470},{"i":68,"b":1934,"t":2.0,"v":610},{"i":68,"b":1934,"t":2.8,"v":560},{"i":68,"b":1934,"t":3.6,"v":790},{"i":68,"b":1934,"t":4.6,"v":720},{"i":68,"b":1934,"t":5.5,"v":870},{"i":68,"b":1934,"t":6.4,"v":820},{"i":68,"b":1934,"t":7.3,"v":980},
{"i":69,"b":1938,"t":0.1,"v":300},{"i":69,"b":1938,"t":1.2,"v":400},{"i":69,"b":1938,"t":2.3,"v":460},{"i":69,"b":1938,"t":3.4,"v":560},{"i":69,"b":1938,"t":4.5,"v":520},{"i":69,"b":1938,"t":5.6,"v":690},{"i":69,"b":1938,"t":6.7,"v":640},{"i":69,"b":1938,"t":7.8,"v":780},{"i":69,"b":1938,"t":8.8,"v":720},
{"i":70,"b":1941,"t":0.1,"v":460},{"i":70,"b":1941,"t":1.3,"v":580},{"i":70,"b":1941,"t":2.5,"v":540},{"i":70,"b":1941,"t":3.6,"v":700},{"i":70,"b":1941,"t":4.8,"v":760},{"i":70,"b":1941,"t":6.0,"v":700},{"i":70,"b":1941,"t":7.2,"v":900},{"i":70,"b":1941,"t":8.3,"v":860},
{"i":71,"b":1943,"t":0.1,"v":340},{"i":71,"b":1943,"t":1.5,"v":450},{"i":71,"b":1943,"t":3.0,"v":520},{"i":71,"b":1943,"t":4.5,"v":500},{"i":71,"b":1943,"t":6.0,"v":640},{"i":71,"b":1943,"t":7.5,"v":600},{"i":71,"b":1943,"t":9.0,"v":720},{"i":71,"b":1943,"t":10.5,"v":680},{"i":71,"b":1943,"t":12.0,"v":760},
{"i":72,"b":1946,"t":0.1,"v":300},{"i":72,"b":1946,"t":1.5,"v":390},{"i":72,"b":1946,"t":3.0,"v":470},{"i":72,"b":1946,"t":4.5,"v":560},{"i":72,"b":1946,"t":6.0,"v":520},{"i":72,"b":1946,"t":7.5,"v":650},{"i":72,"b":1946,"t":9.0,"v":600},{"i":72,"b":1946,"t":10.5,"v":700},{"i":72,"b":1946,"t":12.0,"v":650},{"i":72,"b":1946,"t":13.5,"v":720},
{"i":73,"b":1948,"t":0.1,"v":410},{"i":73,"b":1948,"t":1.2,"v":500},{"i":73,"b":1948,"t":2.5,"v":480},{"i":73,"b":1948,"t":3.8,"v":620},{"i":73,"b":1948,"t":5.0,"v":590},{"i":73,"b":1948,"t":6.3,"v":700},{"i":73,"b":1948,"t":7.6,"v":660},{"i":73,"b":1948,"t":8.8,"v":760},
{"i":74,"b":1951,"t":0.1,"v":260},{"i":74,"b":1951,"t":1.8,"v":340},{"i":74,"b":1951,"t":3.5,"v":400},{"i":74,"b":1951,"t":5.2,"v":470},{"i":74,"b":1951,"t":7.0,"v":450},{"i":74,"b":1951,"t":8.8,"v":560},{"i":74,"b":1951,"t":10.5,"v":520},{"i":74,"b":1951,"t":12.0,"v":600},{"i":74,"b":1951,"t":13.3,"v":580},
{"i":75,"b":1954,"t":0.1,"v":340},{"i":75,"b":1954,"t":1.5,"v":420},{"i":75,"b":1954,"t":3.0,"v":400},{"i":75,"b":1954,"t":4.5,"v":520},{"i":75,"b":1954,"t":6.0,"v":500},{"i":75,"b":1954,"t":7.5,"v":600},{"i":75,"b":1954,"t":9.0,"v":560},{"i":75,"b":1954,"t":10.5,"v":640},
{"i":76,"b":1957,"t":0.1,"v":280},{"i":76,"b":1957,"t":1.5,"v":350},{"i":76,"b":1957,"t":3.0,"v":420},{"i":76,"b":1957,"t":4.5,"v":400},{"i":76,"b":1957,"t":6.0,"v":490},{"i":76,"b":1957,"t":7.5,"v":530},{"i":76,"b":1957,"t":9.0,"v":500},{"i":76,"b":1957,"t":10.5,"v":580},{"i":76,"b":1957,"t":12.0,"v":550},
{"i":77,"b":1960,"t":0.1,"v":240},{"i":77,"b":1960,"t":1.5,"v":300},{"i":77,"b":1960,"t":3.0,"v":350},{"i":77,"b":1960,"t":4.5,"v":390},{"i":77,"b":1960,"t":6.0,"v":430},{"i":77,"b":1960,"t":7.5,"v":420},{"i":77,"b":1960,"t":9.0,"v":480},{"i":77,"b":1960,"t":10.5,"v":510},
{"i":78,"b":1963,"t":0.1,"v":280},{"i":78,"b":1963,"t":1.5,"v":320},{"i":78,"b":1963,"t":3.0,"v":370},{"i":78,"b":1963,"t":4.5,"v":410},{"i":78,"b":1963,"t":6.0,"v":400},{"i":78,"b":1963,"t":7.5,"v":460},{"i":78,"b":1963,"t":9.0,"v":490},{"i":78,"b":1963,"t":10.5,"v":470},{"i":78,"b":1963,"t":12.0,"v":520},
{"i":79,"b":1966,"t":0.1,"v":200},{"i":79,"b":1966,"t":1.5,"v":240},{"i":79,"b":1966,"t":3.0,"v":270},{"i":79,"b":1966,"t":4.5,"v":310},{"i":79,"b":1966,"t":6.0,"v":340},{"i":79,"b":1966,"t":7.5,"v":370},{"i":79,"b":1966,"t":9.0,"v":360},{"i":79,"b":1966,"t":10.5,"v":410},{"i":79,"b":1966,"t":12.0,"v":440},
{"i":80,"b":1970,"t":0.1,"v":190},{"i":80,"b":1970,"t":1.5,"v":220},{"i":80,"b":1970,"t":3.0,"v":240},{"i":80,"b":1970,"t":4.5,"v":270},{"i":80,"b":1970,"t":6.0,"v":300},{"i":80,"b":1970,"t":7.5,"v":290},{"i":80,"b":1970,"t":9.0,"v":330},{"i":80,"b":1970,"t":10.5,"v":360},
{"i":81,"b":1935,"t":0.1,"v":540},{"i":81,"b":1935,"t":0.9,"v":650},{"i":81,"b":1935,"t":1.8,"v":600},{"i":81,"b":1935,"t":2.7,"v":820},{"i":81,"b":1935,"t":3.6,"v":760},{"i":81,"b":1935,"t":4.5,"v":940},{"i":81,"b":1935,"t":5.4,"v":880},{"i":81,"b":1935,"t":6.3,"v":1000},
{"i":82,"b":1939,"t":0.1,"v":620},{"i":82,"b":1939,"t":1.0,"v":560},{"i":82,"b":1939,"t":2.0,"v":720},{"i":82,"b":1939,"t":3.0,"v":680},{"i":82,"b":1939,"t":4.0,"v":860},{"i":82,"b":1939,"t":5.0,"v":800},{"i":82,"b":1939,"t":6.0,"v":960},
{"i":83,"b":1944,"t":0.1,"v":600},{"i":83,"b":1944,"t":1.2,"v":700},{"i":83,"b":1944,"t":2.4,"v":650},{"i":83,"b":1944,"t":3.6,"v":780},{"i":83,"b":1944,"t":4.8,"v":720},{"i":83,"b":1944,"t":6.0,"v":830},{"i":83,"b":1944,"t":7.2,"v":780},{"i":83,"b":1944,"t":8.4,"v":880},{"i":83,"b":1944,"t":9.6,"v":820},
{"i":84,"b":1958,"t":0.1,"v":400},{"i":84,"b":1958,"t":1.5,"v":480},{"i":84,"b":1958,"t":3.0,"v":460},{"i":84,"b":1958,"t":4.5,"v":560},{"i":84,"b":1958,"t":6.0,"v":540},{"i":84,"b":1958,"t":7.5,"v":620},{"i":84,"b":1958,"t":9.0,"v":580},{"i":84,"b":1958,"t":10.5,"v":660},{"i":84,"b":1958,"t":11.5,"v":620},
{"i":85,"b":1949,"t":0.1,"v":520},{"i":85,"b":1949,"t":1.5,"v":600},{"i":85,"b":1949,"t":3.0,"v":560},{"i":85,"b":1949,"t":4.5,"v":680},{"i":85,"b":1949,"t":6.0,"v":640},{"i":85,"b":1949,"t":7.5,"v":760},{"i":85,"b":1949,"t":9.0,"v":720},{"i":85,"b":1949,"t":10.0,"v":840},{"i":85,"b":1949,"t":11.0,"v":800},
{"i":86,"b":1975,"t":0.1,"v":180},{"i":86,"b":1975,"t":1.5,"v":210},{"i":86,"b":1975,"t":3.0,"v":230},{"i":86,"b":1975,"t":4.5,"v":260},{"i":86,"b":1975,"t":6.0,"v":280},{"i":86,"b":1975,"t":7.5,"v":310},{"i":86,"b":1975,"t":9.0,"v":340},{"i":86,"b":1975,"t":10.5,"v":360},{"i":86,"b":1975,"t":12.0,"v":380}
]
},
"spacing": 195,
"hconcat": [
  {
    "title": {"text": ["(a) Prior FVC trajectories overlaid with dif-", "ferent SSC subsets."], "orient": "bottom", "anchor": "start", "font": "Liberation Serif", "fontSize": 24, "fontWeight": "normal", "color": "#000", "lineHeight": 25, "offset": 13, "dx": -8},
    "spacing": 16,
    "hconcat": [
      {
        "width": 267, "height": 247,
        "title": {"text": "Forced Vital Capacity (FVC - % predicted)", "offset": 6, "dy": -2, "frame": "group"},
        "data": {"name": "fvc"},
        "mark": {"type": "line", "strokeWidth": 1.5},
        "encoding": {
          "x": {"field": "t", "type": "quantitative", "scale": {"domain": [-0.8, 18.45], "nice": false, "zero": false}, "axis": {"title": "time [years]", "values": [0, 2.5, 5, 7.5, 10, 12.5, 15, 17.5], "format": ".1f"}},
          "y": {"field": "v", "type": "quantitative", "scale": {"domain": [82.9, 115.7], "nice": false, "zero": false}, "axis": {"title": "Value", "titlePadding": 3, "values": [85, 90, 95, 100, 105, 110, 115]}},
          "color": {"field": "g", "type": "quantitative", "scale": {"scheme": "viridis", "domain": [1, 2]}, "legend": null},
          "detail": {"field": "i", "type": "nominal"}
        }
      },
      {
        "width": 13, "height": 247,
        "data": {"name": "cb1"},
        "mark": {"type": "rect", "fill": {"gradient": "linear", "x1": 0, "y1": 1, "x2": 0, "y2": 0, "stops": [{"offset": 0, "color": "#440154"}, {"offset": 0.1, "color": "#482475"}, {"offset": 0.2, "color": "#414487"}, {"offset": 0.3, "color": "#355f8d"}, {"offset": 0.4, "color": "#2a788e"}, {"offset": 0.5, "color": "#21918c"}, {"offset": 0.6, "color": "#22a884"}, {"offset": 0.7, "color": "#44bf70"}, {"offset": 0.8, "color": "#7ad151"}, {"offset": 0.9, "color": "#bddf26"}, {"offset": 1, "color": "#fde725"}]}},
        "encoding": {
          "y": {"field": "lo", "type": "quantitative", "scale": {"domain": [1, 2], "nice": false, "zero": false}, "axis": {"orient": "right", "grid": false, "values": [1, 1.2, 1.4, 1.6, 1.8, 2], "format": ".1f", "title": "Subsets of SSc according to LeRoy (1988)", "titleAngle": 270, "titleBaseline": "top", "titlePadding": 4}},
          "y2": {"field": "hi"}
        }
      }
    ]
  },
  {
    "title": {"text": ["(b) Prior predicted trajectories conditioned on", "static variables."], "orient": "bottom", "anchor": "start", "font": "Liberation Serif", "fontSize": 24, "fontWeight": "normal", "color": "#000", "lineHeight": 25, "offset": 13, "dx": -5},
    "spacing": 17,
    "hconcat": [
      {
        "width": 269, "height": 251,
        "title": {"text": "NTproBNP (pg/ml)", "offset": 5, "frame": "group"},
        "data": {"name": "bnp"},
        "mark": {"type": "line", "strokeWidth": 1.4},
        "encoding": {
          "x": {"field": "t", "type": "quantitative", "scale": {"domain": [-0.74, 18.45], "nice": false, "zero": false}, "axis": {"title": "time [years]", "values": [0, 2.5, 5, 7.5, 10, 12.5, 15, 17.5], "format": ".1f"}},
          "y": {"field": "v", "type": "quantitative", "scale": {"domain": [58, 1698], "nice": false, "zero": false}, "axis": {"title": "Value", "titlePadding": 3, "values": [200, 400, 600, 800, 1000, 1200, 1400, 1600], "format": "d"}},
          "color": {"field": "b", "type": "quantitative", "scale": {"scheme": "viridis", "domain": [1922, 2000]}, "legend": null},
          "detail": {"field": "i", "type": "nominal"}
        }
      },
      {
        "width": 14, "height": 251,
        "data": {"name": "cb2"},
        "mark": {"type": "rect", "fill": {"gradient": "linear", "x1": 0, "y1": 1, "x2": 0, "y2": 0, "stops": [{"offset": 0, "color": "#440154"}, {"offset": 0.1, "color": "#482475"}, {"offset": 0.2, "color": "#414487"}, {"offset": 0.3, "color": "#355f8d"}, {"offset": 0.4, "color": "#2a788e"}, {"offset": 0.5, "color": "#21918c"}, {"offset": 0.6, "color": "#22a884"}, {"offset": 0.7, "color": "#44bf70"}, {"offset": 0.8, "color": "#7ad151"}, {"offset": 0.9, "color": "#bddf26"}, {"offset": 1, "color": "#fde725"}]}},
        "encoding": {
          "y": {"field": "lo", "type": "quantitative", "scale": {"domain": [1922, 2000], "nice": false, "zero": false}, "axis": {"orient": "right", "grid": false, "values": [1930, 1940, 1950, 1960, 1970, 1980, 1990, 2000], "format": "d", "title": "Date of birth", "titleAngle": 270, "titleBaseline": "top", "titlePadding": 4}},
          "y2": {"field": "hi"}
        }
      }
    ]
  }
]
}
